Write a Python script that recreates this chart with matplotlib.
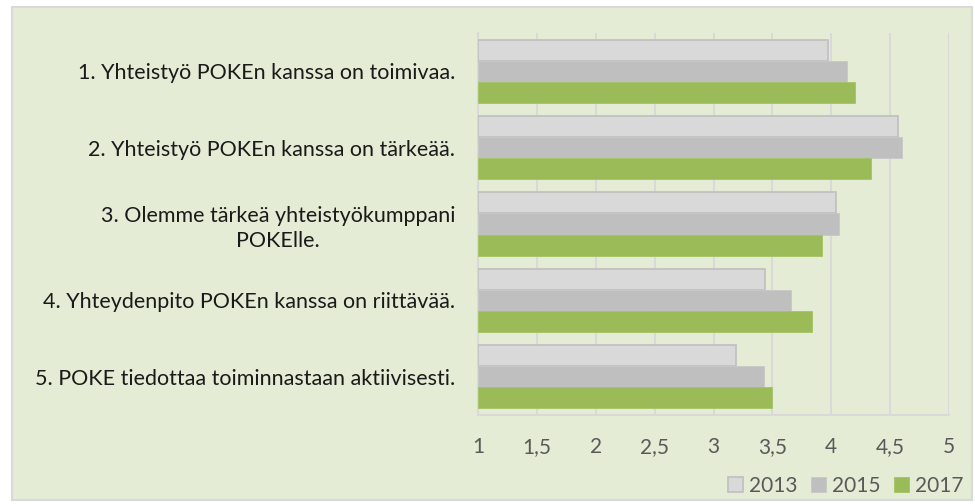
import numpy as np
import matplotlib.pyplot as plt
from matplotlib.patches import Rectangle

kategoriat = [
    "1. Yhteistyö POKEn kanssa on toimivaa.",
    "2. Yhteistyö POKEn kanssa on tärkeää.",
    "3. Olemme tärkeä yhteistyökumppani\nPOKElle.",
    "4. Yhteydenpito POKEn kanssa on riittävää.",
    "5. POKE tiedottaa toiminnastaan aktiivisesti.",
]
vuodet = ["2013", "2015", "2017"]
arvot_2013 = [3.97, 4.57, 4.04, 3.44, 3.19]
arvot_2015 = [4.13, 4.60, 4.07, 3.66, 3.43]
arvot_2017 = [4.20, 4.34, 3.92, 3.84, 3.50]
x_tikit = [1, 1.5, 2, 2.5, 3, 3.5, 4, 4.5, 5]
x_tikki_tekstit = ["1", "1,5", "2", "2,5", "3", "3,5", "4", "4,5", "5"]

plt.rcParams["font.family"] = ["Lato", "DejaVu Sans"]

W, H = 975, 504
fig = plt.figure(figsize=(W / 100, H / 100), dpi=100)

# kaavioalueen tausta
tausta = Rectangle((12 / W, 1 - 500 / H), 960 / W, 493 / H,
                   transform=fig.transFigure, facecolor="#E4ECD5",
                   edgecolor="#D9D9D9", linewidth=1.5, zorder=-1)
fig.patches.append(tausta)

ax = fig.add_axes([478 / W, 1 - 415 / H, 471 / W, 382 / H])
ax.set_facecolor("none")
ax.set_zorder(1)

y = np.arange(len(kategoriat))
h = 0.275
ax.barh(y - h, np.array(arvot_2013) - 1, left=1, height=h, color="#D9D9D9",
        edgecolor="#BFBFBF", linewidth=1.2, label=vuodet[0], zorder=3)
ax.barh(y, np.array(arvot_2015) - 1, left=1, height=h, color="#BFBFBF",
        edgecolor="#C8C8C8", linewidth=0.6, label=vuodet[1], zorder=3)
ax.barh(y + h, np.array(arvot_2017) - 1, left=1, height=h, color="#9BBB59",
        edgecolor="#A5C266", linewidth=0.6, label=vuodet[2], zorder=3)

ax.set_xlim(1, 5)
ax.set_ylim(len(kategoriat) - 0.5, -0.5)
ax.set_xticks(x_tikit)
ax.set_xticklabels(x_tikki_tekstit, fontsize=15, color="#595959")
ax.set_yticks(y)
ax.set_yticklabels(kategoriat, fontsize=15.5, color="#1a1a1a",
                   multialignment="center", linespacing=1.3)
ax.tick_params(axis="y", length=0, pad=16.5)
ax.tick_params(axis="x", length=0, pad=16)
ax.grid(axis="x", color="#D9D9D9", linewidth=1.5, zorder=0)
ax.set_axisbelow(True)
for s in ["top", "right"]:
    ax.spines[s].set_visible(False)
for s in ["left", "bottom"]:
    ax.spines[s].set_color("#D9D9D9")
    ax.spines[s].set_linewidth(1.5)

fig.legend(loc="center right", bbox_to_anchor=(978 / W, 1 - 486 / H),
           ncol=3, frameon=False, fontsize=15, handlelength=0.7,
           handleheight=0.7, handletextpad=0.3, columnspacing=0.65,
           labelcolor="#595959", borderpad=0.2)

fig.savefig("out.png", dpi=100)
